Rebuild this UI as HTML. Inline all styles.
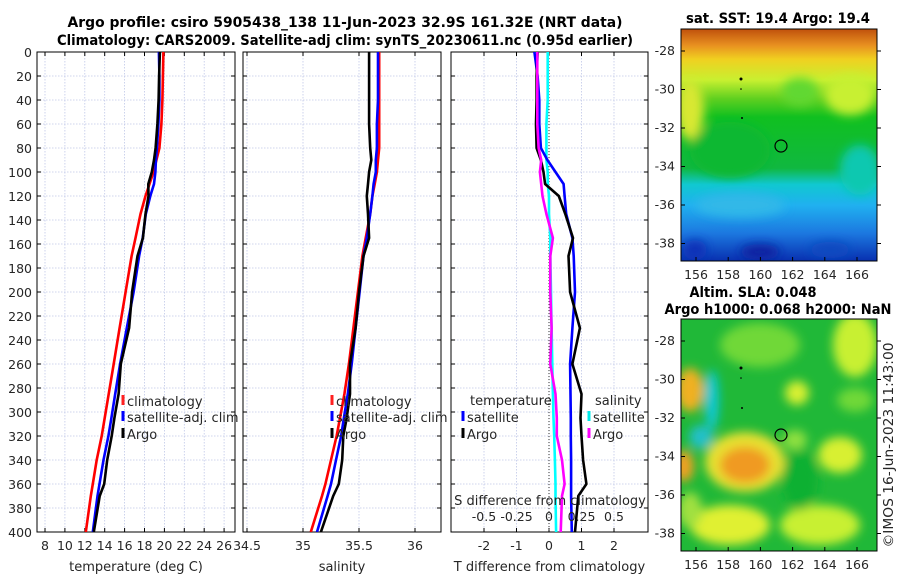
<!DOCTYPE html>
<html><head><meta charset="utf-8">
<style>
html,body{margin:0;padding:0;background:#fff;}
svg{display:block;font-family:"DejaVu Sans","Liberation Sans",sans-serif;}
</style></head>
<body>
<svg id="fig" width="900" height="580" viewBox="0 0 900 580">
<defs>
<filter id="blur6" x="-20%" y="-20%" width="140%" height="140%"><feGaussianBlur stdDeviation="5"/></filter>
<clipPath id="clipMap1"><rect x="681" y="29" width="196" height="232"/></clipPath>
<clipPath id="clipMap2"><rect x="681" y="319" width="196" height="232"/></clipPath>
<clipPath id="cp1"><rect x="37" y="52" width="198" height="480"/></clipPath>
<clipPath id="cp2"><rect x="243" y="52" width="198" height="480"/></clipPath>
<clipPath id="cp3"><rect x="451" y="52" width="197" height="480"/></clipPath>
<linearGradient id="sstGrad" x1="0" y1="0" x2="0" y2="1">
<stop offset="0" stop-color="#c0500c"/><stop offset="0.07" stop-color="#e89020"/>
<stop offset="0.13" stop-color="#f0d020"/><stop offset="0.22" stop-color="#c8f030"/>
<stop offset="0.30" stop-color="#60d020"/><stop offset="0.38" stop-color="#10c020"/>
<stop offset="0.6" stop-color="#10b840"/><stop offset="0.67" stop-color="#10c8d0"/>
<stop offset="0.76" stop-color="#20b0f0"/>
<stop offset="0.88" stop-color="#1c78e0"/><stop offset="1" stop-color="#0830b0"/>
</linearGradient>
</defs>

<g font-weight="bold" font-size="14" text-anchor="middle" fill="#000">
<text x="345" y="27" textLength="555" lengthAdjust="spacingAndGlyphs">Argo profile: csiro 5905438_138 11-Jun-2023 32.9S 161.32E (NRT data)</text>
<text x="345" y="45" textLength="576" lengthAdjust="spacingAndGlyphs">Climatology: CARS2009. Satellite-adj clim: synTS_20230611.nc (0.95d earlier)</text>
</g>

<g id="panels"></g>

<!-- Map 1: SST -->
<g>
<text x="778" y="23" text-anchor="middle" font-weight="bold" font-size="14" textLength="184" lengthAdjust="spacingAndGlyphs">sat. SST: 19.4 Argo: 19.4</text>
<g clip-path="url(#clipMap1)">
<rect x="681" y="29" width="196" height="232" fill="url(#sstGrad)"/>
<g filter="url(#blur6)">
<ellipse cx="690" cy="110" rx="14" ry="30" fill="#d8e830"/>
<ellipse cx="850" cy="95" rx="25" ry="20" fill="#c8f030"/>
<ellipse cx="800" cy="92" rx="18" ry="14" fill="#60d830"/>
<ellipse cx="730" cy="150" rx="40" ry="28" fill="#10b830"/>
<ellipse cx="860" cy="170" rx="20" ry="25" fill="#10c8b0"/>
<ellipse cx="740" cy="205" rx="45" ry="12" fill="#30b8e8"/>
<ellipse cx="760" cy="252" rx="20" ry="8" fill="#0820a0"/>
<ellipse cx="695" cy="250" rx="12" ry="10" fill="#0830b8"/>
<ellipse cx="830" cy="250" rx="20" ry="8" fill="#1048c0"/>
</g>
</g>
<rect x="681" y="29" width="196" height="232" fill="none" stroke="#000" stroke-width="1"/>
<circle cx="781" cy="146" r="6" fill="none" stroke="#000" stroke-width="1.2"/>
<circle cx="741" cy="79" r="1.5" fill="#000"/><circle cx="741" cy="89" r="0.8" fill="#000"/><circle cx="742" cy="118" r="1" fill="#000"/>
<g id="map1ticks" font-size="12.5" fill="#262626"></g>
</g>

<!-- Map 2: SLA -->
<g>
<text x="753" y="297" text-anchor="middle" font-weight="bold" font-size="14" textLength="127" lengthAdjust="spacingAndGlyphs">Altim. SLA: 0.048</text>
<text x="778" y="314" text-anchor="middle" font-weight="bold" font-size="14" textLength="227" lengthAdjust="spacingAndGlyphs">Argo h1000: 0.068 h2000: NaN</text>
<g clip-path="url(#clipMap2)">
<rect x="681" y="319" width="196" height="232" fill="#20b838"/>
<g filter="url(#blur6)">
<ellipse cx="760" cy="345" rx="40" ry="22" fill="#70d838"/>
<ellipse cx="855" cy="345" rx="22" ry="32" fill="#c8f030"/>
<ellipse cx="690" cy="390" rx="14" ry="22" fill="#f0b020"/>
<ellipse cx="712" cy="400" rx="7" ry="30" fill="#10c8d8"/>
<ellipse cx="701" cy="437" rx="12" ry="12" fill="#20c0c8"/>
<ellipse cx="745" cy="462" rx="40" ry="30" fill="#e8e030"/>
<ellipse cx="745" cy="465" rx="25" ry="18" fill="#f09a20"/>
<ellipse cx="684" cy="466" rx="10" ry="16" fill="#f0a020"/>
<ellipse cx="797" cy="393" rx="12" ry="12" fill="#d8f030"/>
<ellipse cx="795" cy="440" rx="12" ry="10" fill="#90e040"/>
<ellipse cx="840" cy="455" rx="22" ry="18" fill="#d8f030"/>
<ellipse cx="855" cy="400" rx="18" ry="12" fill="#70d838"/>
<ellipse cx="730" cy="525" rx="40" ry="20" fill="#e0f030"/>
<ellipse cx="820" cy="525" rx="40" ry="20" fill="#c8f030"/>
<ellipse cx="800" cy="480" rx="18" ry="30" fill="#10b030"/>
<ellipse cx="690" cy="510" rx="12" ry="18" fill="#a0e040"/>
</g>
</g>
<rect x="681" y="319" width="196" height="232" fill="none" stroke="#000" stroke-width="1"/>
<circle cx="781" cy="435" r="6" fill="none" stroke="#000" stroke-width="1.2"/>
<circle cx="741" cy="368" r="1.5" fill="#000"/><circle cx="741" cy="378" r="0.8" fill="#000"/><circle cx="742" cy="408" r="1" fill="#000"/>
<g id="map2ticks" font-size="12.5" fill="#262626"></g>
</g>

<text x="893" y="445" font-size="13" fill="#262626" text-anchor="middle" transform="rotate(-90 893 445)" textLength="205" lengthAdjust="spacingAndGlyphs">©IMOS 16-Jun-2023 11:43:00</text>
</svg>

<script>
// ---- data ----
const depths = [0,20,40,60,80,90,100,110,120,135,155,170,200,230,260,285,305,320,340,360,370,400];
const tempClim = [19.9,19.85,19.8,19.7,19.5,19.2,18.9,18.5,18.1,17.6,17.1,16.7,16.1,15.5,14.9,14.4,14.0,13.7,13.2,12.8,12.6,12.1];
const tempSat = [19.45,19.5,19.5,19.4,19.25,19.15,19.1,18.95,18.58,18.13,17.82,17.46,16.9,16.22,15.55,15.06,14.67,14.37,13.88,13.48,13.28,12.8];
const tempArgo = [19.55,19.47,19.42,19.3,19.12,18.95,18.73,18.38,18.4,18.1,17.84,17.3,16.75,16.45,15.62,15.4,14.97,14.7,14.25,13.95,13.5,12.9];
const salClim = [35.68,35.68,35.68,35.68,35.68,35.67,35.66,35.64,35.62,35.6,35.56,35.53,35.49,35.45,35.41,35.37,35.33,35.3,35.25,35.2,35.17,35.07];
const salSat = [35.67,35.67,35.67,35.66,35.66,35.65,35.65,35.63,35.62,35.6,35.57,35.54,35.505,35.47,35.435,35.4,35.365,35.34,35.295,35.25,35.22,35.125];
const salArgo = [35.59,35.59,35.59,35.59,35.6,35.61,35.59,35.58,35.57,35.58,35.59,35.54,35.5,35.47,35.42,35.42,35.39,35.36,35.35,35.32,35.27,35.16];
const tDiffSat = [-0.45,-0.35,-0.3,-0.3,-0.25,-0.05,0.2,0.45,0.48,0.53,0.72,0.76,0.8,0.72,0.65,0.66,0.67,0.67,0.68,0.68,0.68,0.7];
const tDiffArgo = [-0.35,-0.38,-0.38,-0.4,-0.38,-0.25,-0.17,-0.12,0.3,0.5,0.74,0.6,0.65,0.95,0.72,1.0,0.97,1.0,1.05,1.15,0.9,0.8];
const sDiffSat = [-0.01,-0.01,-0.01,-0.02,-0.02,-0.02,-0.01,-0.01,0.0,0.0,0.01,0.01,0.015,0.02,0.025,0.03,0.035,0.04,0.045,0.05,0.05,0.055];
const sDiffArgo = [-0.09,-0.09,-0.09,-0.09,-0.08,-0.06,-0.07,-0.06,-0.05,-0.02,0.03,0.01,0.01,0.02,0.01,0.05,0.06,0.06,0.1,0.12,0.1,0.09];
const depthTicks = [0,20,40,60,80,100,120,140,160,180,200,220,240,260,280,300,320,340,360,380,400];
const tempTicks = [8,10,12,14,16,18,20,22,24,26];
const salTicks = [34.5,35,35.5,36];
const salTickLabels = ["34.5","35","35.5","36"];
const tDiffTicks = [-2,-1,0,1,2];
const sDiffTicks = [-0.5,-0.25,0,0.25,0.5];
const sDiffTickLabels = ["-0.5","-0.25","0","0.25","0.5"];
const lonTicks = [156,158,160,162,164,166];
const latTicks = [-28,-30,-32,-34,-36,-38];

const NS = "http://www.w3.org/2000/svg";
const panels = document.getElementById('panels');
function mk(tag, attrs, parent){const e=document.createElementNS(NS,tag);for(const k in attrs)e.setAttribute(k,attrs[k]);(parent||panels).appendChild(e);return e;}

const Y0=52, Y1=532;
const yScale = d => Y0 + d*(Y1-Y0)/400;
const xTemp = t => 45 + (t-8)*9.95;
const xSal = s => 303 + (s-35)*112;
const xTD = v => 549 + v*32.5;
const xSD = v => 549 + v*130;

function panel(name, x0, x1, xs, ticks, labels, xlabel){
  const g = mk('g',{});
  
  
  depthTicks.forEach(d=>{ mk('line',{x1:x0,x2:x1,y1:yScale(d),y2:yScale(d),stroke:'#c0c8e8','stroke-width':0.8,'stroke-dasharray':'1.5,1.5'},g); });
  ticks.forEach(t=>{ mk('line',{x1:xs(t),x2:xs(t),y1:Y0,y2:Y1,stroke:'#c0c8e8','stroke-width':0.8,'stroke-dasharray':'1.5,1.5'},g); });
  mk('rect',{x:x0,y:Y0,width:x1-x0,height:Y1-Y0,fill:'none',stroke:'#000','stroke-width':1},g);
  depthTicks.forEach(d=>{ mk('line',{x1:x0,x2:x0+4,y1:yScale(d),y2:yScale(d),stroke:'#000'},g); mk('line',{x1:x1-4,x2:x1,y1:yScale(d),y2:yScale(d),stroke:'#000'},g); });
  ticks.forEach((t,i)=>{
    mk('line',{x1:xs(t),x2:xs(t),y1:Y1,y2:Y1-4,stroke:'#000'},g);
    mk('line',{x1:xs(t),x2:xs(t),y1:Y0,y2:Y0+4,stroke:'#000'},g);
    const tx = mk('text',{x:xs(t),y:Y1+18,'text-anchor':'middle','font-size':12.5,fill:'#262626'},g);
    tx.textContent = labels[i];
  });
  const xl = mk('text',{x:(x0+x1)/2,y:571,'text-anchor':'middle','font-size':13,fill:'#262626'},g);
  
  
  xl.textContent = xlabel;
  return g;
}
function series(g, name, clip, xs, vals, color){
  let d='';
  vals.forEach((v,i)=>{ d += (i?'L':'M')+xs(v).toFixed(1)+','+yScale(depths[i]).toFixed(1); });
  const p = mk('path',{d:d,fill:'none',stroke:color,'stroke-width':2.6,'stroke-linejoin':'round','clip-path':clip},g);
  
  
}
function legendEntry(g, name, x, y, color, label){
  const e = mk('g',{},g);
  
  
  if(color) mk('line',{x1:x,x2:x,y1:y-11,y2:y-1,stroke:color,'stroke-width':3},e);
  const t = mk('text',{x:x+4,y:y,'font-size':13,fill:'#262626'},e);
  t.textContent = label;
}

const dl = mk('g',{});


depthTicks.forEach(d=>{ const t=mk('text',{x:32,y:yScale(d)+5,'text-anchor':'end','font-size':12.5,fill:'#262626'},dl); t.textContent=d; });

const g1 = panel('temperature-panel',37,235,xTemp,tempTicks,tempTicks.map(String),'temperature (deg C)');
series(g1,'temp-climatology-line','url(#cp1)',xTemp,tempClim,'#ff0000');
series(g1,'temp-satellite-adj-line','url(#cp1)',xTemp,tempSat,'#0000ff');
series(g1,'temp-argo-line','url(#cp1)',xTemp,tempArgo,'#000000');
legendEntry(g1,'legend-climatology',123,406,'#ff2020','climatology');
legendEntry(g1,'legend-satellite-adj',123,422,'#0000ff','satellite-adj. clim');
legendEntry(g1,'legend-argo',123,439,'#000','Argo');

const g2 = panel('salinity-panel',243,441,xSal,salTicks,salTickLabels,'salinity');
series(g2,'sal-climatology-line','url(#cp2)',xSal,salClim,'#ff0000');
series(g2,'sal-satellite-adj-line','url(#cp2)',xSal,salSat,'#0000ff');
series(g2,'sal-argo-line','url(#cp2)',xSal,salArgo,'#000000');
legendEntry(g2,'legend-climatology-sal',332,406,'#ff2020','climatology');
legendEntry(g2,'legend-satellite-adj-sal',332,422,'#0000ff','satellite-adj. clim');
legendEntry(g2,'legend-argo-sal',332,439,'#000','Argo');

const g3 = panel('difference-panel',451,648,xTD,tDiffTicks,tDiffTicks.map(String),'T difference from climatology');
mk('line',{x1:xTD(0),x2:xTD(0),y1:Y0,y2:Y1,stroke:'#333','stroke-width':1,'stroke-dasharray':'1,2'},g3);
series(g3,'s-diff-satellite-line','url(#cp3)',xSD,sDiffSat,'#00ffff');
series(g3,'t-diff-satellite-line','url(#cp3)',xTD,tDiffSat,'#0000ff');
series(g3,'t-diff-argo-line','url(#cp3)',xTD,tDiffArgo,'#000000');
series(g3,'s-diff-argo-line','url(#cp3)',xSD,sDiffArgo,'#ff00ff');
legendEntry(g3,'legend-temperature-header',466,405,null,'temperature');
legendEntry(g3,'legend-t-satellite',463,422,'#0000ff','satellite');
legendEntry(g3,'legend-t-argo',463,439,'#000','Argo');
legendEntry(g3,'legend-salinity-header',591,405,null,'salinity');
legendEntry(g3,'legend-s-satellite',589,422,'#00e8e8','satellite');
legendEntry(g3,'legend-s-argo',589,439,'#ff00ff','Argo');
const st = mk('text',{x:550,y:505,'text-anchor':'middle','font-size':13,fill:'#262626'},g3);


st.textContent='S difference from climatology';
sDiffTicks.forEach((t,i)=>{ const tx=mk('text',{x:xSD(t),y:521,'text-anchor':'middle','font-size':12.5,fill:'#262626'},g3); tx.textContent=sDiffTickLabels[i]; });

function mapTicks(id, top, lat0y){
  const g=document.getElementById(id);
  const lonX = l => 696 + (l-156)*16.1;
  const latY = l => lat0y + (-28-l)*19.25;
  lonTicks.forEach(l=>{
    mk('line',{x1:lonX(l),x2:lonX(l),y1:top+232,y2:top+228,stroke:'#000'},g);
    const t=mk('text',{x:lonX(l),y:top+250,'text-anchor':'middle'},g); t.textContent=l;
  });
  latTicks.forEach(l=>{
    mk('line',{x1:681,x2:685,y1:latY(l),y2:latY(l),stroke:'#000'},g);
    mk('line',{x1:877,x2:881,y1:latY(l),y2:latY(l),stroke:'#000'},g);
    const t=mk('text',{x:675,y:latY(l)+4,'text-anchor':'end'},g); t.textContent=l;
  });
}
mapTicks('map1ticks',29,51);
mapTicks('map2ticks',319,341);
</script>
</body></html>
